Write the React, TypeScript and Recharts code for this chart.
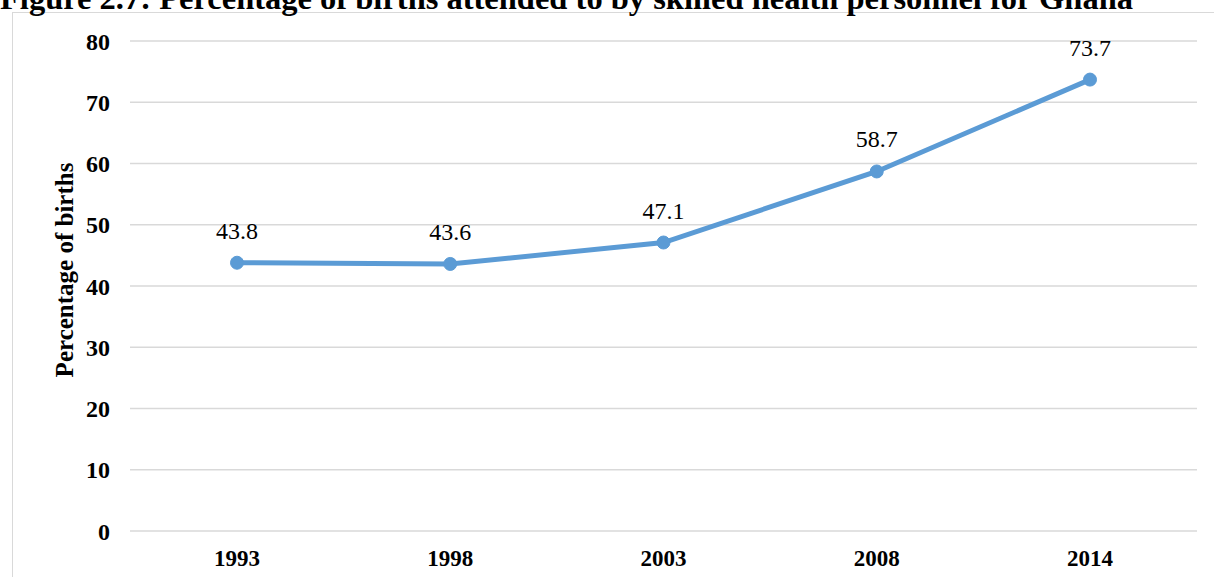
import React from "react";
import { LineChart, Line, XAxis, YAxis, CartesianGrid, LabelList } from "recharts";

const years = ["1993", "1998", "2003", "2008", "2014"];
const percentages = [43.8, 43.6, 47.1, 58.7, 73.7];
const yTicks = [0, 10, 20, 30, 40, 50, 60, 70, 80];
const titleText = "Figure 2.7: Percentage of births attended to by skilled health personnel for Ghana";
const yAxisTitle = "Percentage of births";

const data = years.map((y, i) => ({ year: y, value: percentages[i] }));

const FONT = '"Liberation Serif", "Times New Roman", serif';

const YLabel = (props: any) => {
  const vb = props.viewBox || {};
  const cx = vb.x - 6;
  const cy = vb.y + vb.height / 2 - 16;
  return (
    <text
      x={cx}
      y={cy}
      transform={`rotate(-90, ${cx}, ${cy})`}
      textAnchor="middle"
      dominantBaseline="central"
      style={{ fontFamily: FONT, fontWeight: "bold", fontSize: 25, fill: "#000" }}
    >
      {yAxisTitle}
    </text>
  );
};

export default function App() {
  return (
    <div style={{ position: "absolute", left: 0, top: 0, width: 1214, height: 577, background: "#fff", overflow: "hidden" }}>
      <div
        style={{
          position: "absolute",
          left: 12,
          top: 12,
          width: 1300,
          height: 700,
          border: "1.5px solid #d9d9d9",
          boxSizing: "border-box",
        }}
      />
      <svg style={{ position: "absolute", left: 0, top: 0 }} width={1214} height={40}>
        <text x={0} y={9} style={{ fontFamily: FONT, fontWeight: "bold", fontSize: 32.5, fill: "#000" }}>
          {titleText}
        </text>
      </svg>
      <div style={{ position: "absolute", left: 0, top: 0 }}>
        <LineChart width={1214} height={577} data={data} margin={{ top: 41, right: 17, bottom: 16, left: 70 }}>
          <CartesianGrid vertical={false} stroke="#d9d9d9" strokeWidth={1.5} />
          <XAxis
            dataKey="year"
            axisLine={false}
            tickLine={false}
            height={30}
            padding={{ left: 107, right: 107 }}
            tick={{ fontFamily: FONT, fontWeight: "bold", fontSize: 23, fill: "#000" }}
            tickMargin={13}
          />
          <YAxis
            domain={[0, 80]}
            ticks={yTicks}
            axisLine={false}
            tickLine={false}
            width={60}
            tick={{ fontFamily: FONT, fontWeight: "bold", fontSize: 24, fill: "#000" }}
            tickMargin={14}
            label={<YLabel />}
          />
          <Line
            type="linear"
            dataKey="value"
            stroke="#5B9BD5"
            strokeWidth={5}
            dot={{ r: 6.5, fill: "#5B9BD5", stroke: "#5B9BD5", strokeWidth: 1 }}
            isAnimationActive={false}
          >
            <LabelList
              dataKey="value"
              position="top"
              offset={24}
              style={{ fontFamily: FONT, fontSize: 24, fill: "#000" }}
            />
          </Line>
        </LineChart>
      </div>
    </div>
  );
}
